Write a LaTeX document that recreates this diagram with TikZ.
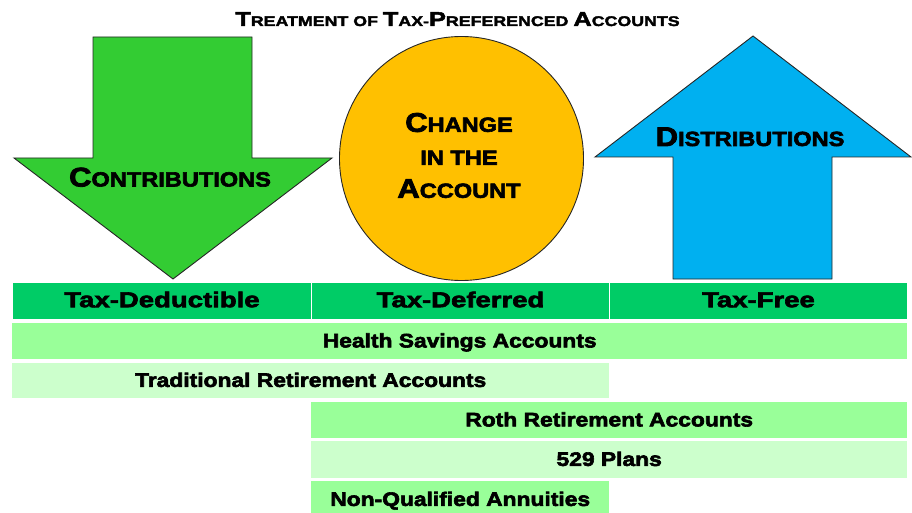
\documentclass[tikz,border=0pt]{standalone}
\usepackage{fontspec}
\setmainfont{Liberation Sans}[FakeStretch=1.28, BoldFeatures={FakeBold=3}]
\newfontfamily\rowfam{Liberation Sans}[FakeStretch=1.17, BoldFeatures={FakeBold=3}]
\newfontfamily\shapefam{Liberation Sans}[FakeStretch=1.15, BoldFeatures={FakeBold=3}]
\newfontfamily\titlefam{Liberation Sans}[FakeStretch=1.27, BoldFeatures={FakeBold=2.5}]

\definecolor{arrowgreen}{RGB}{51,204,51}
\definecolor{circlegold}{RGB}{255,192,0}
\definecolor{arrowblue}{RGB}{0,176,240}
\definecolor{hdrgreen}{RGB}{0,204,102}
\definecolor{rowgreen}{RGB}{153,255,153}
\definecolor{rowpale}{RGB}{204,255,204}

% fonts
\newcommand\hdrfont{\fontsize{21.5}{25}\selectfont\bfseries}
\newcommand\rowfont{\rowfam\fontsize{19.5}{23}\selectfont\bfseries}
\newcommand\shapefont{\shapefam\fontsize{20.5}{33}\selectfont\bfseries}
\newcommand\titlefont{\titlefam\fontsize{14}{16}\selectfont\bfseries}
% large initials for the small-caps labels
\newcommand\bigini[1]{{\fontsize{27}{30}\selectfont #1}}
\newcommand\titleini[1]{{\fontsize{20}{22}\selectfont #1}}

\begin{document}
\begin{tikzpicture}[x=1pt,y=-1pt,
  outl/.style={draw=black!85, line width=0.9pt},
  cellbox/.style={inner sep=0pt, anchor=north west, text=black},
  hdrcell/.style={cellbox, fill=hdrgreen, draw=white, line width=1pt,
    minimum height=37pt, font=\hdrfont, text height=15.4pt, text depth=3pt},
  rowbox/.style={cellbox, font=\rowfont, text height=14pt, text depth=1.6pt},
  shapelabel/.style={font=\shapefont, anchor=base, inner sep=0pt},
]
\useasboundingbox (0,0) rectangle (912,513);

% title
\node[font=\titlefont, anchor=base, inner sep=0pt] (title) at (457.5,26)
  {\titleini{T}REATMENT OF \titleini{T}AX-\titleini{P}REFERENCED \titleini{A}CCOUNTS};

% contributions: downward arrow
\draw[outl, fill=arrowgreen] (93,37) -- (252,37) -- (252,158) -- (332,158)
  -- (173,279) -- (14,158) -- (93,158) -- cycle;
\node[shapelabel] (contrib) at (170,186.5) {\bigini{C}ONTRIBUTIONS};

% change in the account: circle
\node[outl, fill=circlegold, circle, minimum size=244pt, inner sep=0pt]
  (changecircle) at (461.5,158.5) {};
\node[font=\shapefont, align=center, inner sep=0pt] (change) at (459,155.5)
  {\bigini{C}HANGE\\IN THE\\\bigini{A}CCOUNT};

% distributions: upward arrow
\draw[outl, fill=arrowblue] (753,36) -- (911,157) -- (832,157) -- (832,279)
  -- (673,279) -- (673,157) -- (595,157) -- cycle;
\node[shapelabel] (distrib) at (750,146) {\bigini{D}ISTRIBUTIONS};

% header row
\node[hdrcell, minimum width=299pt] (deduct) at (12,282) {Tax-Deductible};
\node[hdrcell, minimum width=298pt] (defer) at (311,282) {Tax-Deferred};
\node[hdrcell, minimum width=298pt] (free) at (609,282) {Tax-Free};

% account rows
\node[rowbox, fill=rowgreen, minimum width=895pt, minimum height=36pt]
  (hsa) at (12,323) {Health Savings Accounts};
\node[rowbox, fill=rowpale, minimum width=597pt, minimum height=35pt]
  (trad) at (12,363) {Traditional Retirement Accounts};
\node[rowbox, fill=rowgreen, minimum width=596pt, minimum height=36pt]
  (roth) at (311,402) {Roth Retirement Accounts};
\node[rowbox, fill=rowpale, minimum width=596pt, minimum height=37pt]
  (plans) at (311,441) {529 Plans};
\node[rowbox, fill=rowgreen, minimum width=298pt, minimum height=37pt]
  (annuity) at (311,481) {Non-Qualified Annuities};
\end{tikzpicture}
\end{document}
